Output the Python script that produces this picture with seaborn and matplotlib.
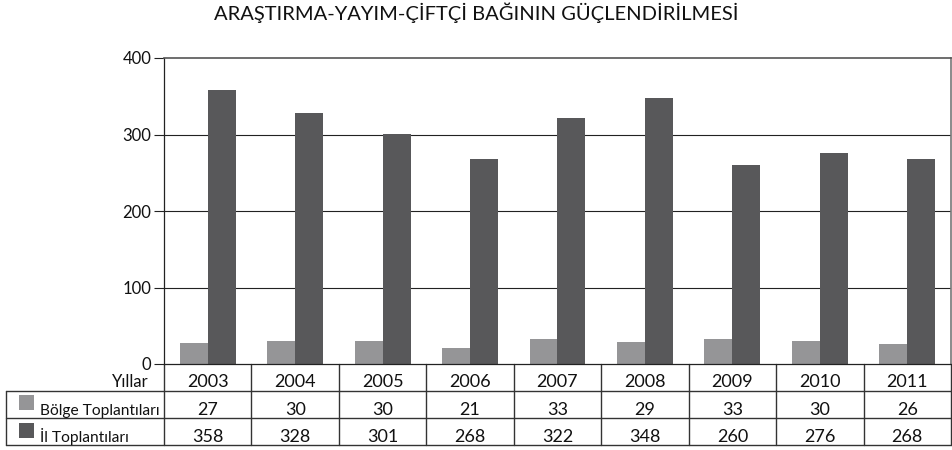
import matplotlib
matplotlib.use("Agg")
import matplotlib.pyplot as plt
import matplotlib.transforms as mtransforms
from matplotlib.patches import Rectangle
import seaborn as sns
import pandas as pd

years = ["2003", "2004", "2005", "2006", "2007", "2008", "2009", "2010", "2011"]
bolge = [27, 30, 30, 21, 33, 29, 33, 30, 26]
il = [358, 328, 301, 268, 322, 348, 260, 276, 268]
series_names = ["Bölge Toplantıları", "İl Toplantıları"]
row_header = "Yıllar"
title = "ARAŞTIRMA-YAYIM-ÇİFTÇİ BAĞININ GÜÇLENDİRİLMESİ"
yticks = [0, 100, 200, 300, 400]

colors = ["#959597", "#58585a"]

sns.set_theme(style="white")
plt.rcParams["font.family"] = ["Lato", "DejaVu Sans"]

df = pd.DataFrame({
    "Yıl": years * 2,
    "Seri": [series_names[0]] * len(years) + [series_names[1]] * len(years),
    "Değer": bolge + il,
})

W, H = 953, 450
fig = plt.figure(figsize=(W / 100, H / 100), dpi=100)
left, right, top, bottom = 164, 951, 58, 364
ax = fig.add_axes([left / W, 1 - bottom / H, (right - left) / W, (bottom - top) / H])

sns.barplot(data=df, x="Yıl", y="Değer", hue="Seri", palette=colors,
            width=0.64, ax=ax, legend=False, saturation=1, edgecolor="none")

ax.set_ylim(0, 400)
ax.set_xlim(-0.5, len(years) - 0.5)
ax.set_yticks(yticks)
ax.set_yticklabels([str(v) for v in yticks], fontsize=12, color="#111111")
ax.set_xticks([])
ax.set_xlabel("")
ax.set_ylabel("")
ax.tick_params(axis="y", which="both", left=True, length=7, width=0.8, color="#222222", pad=2)
for v in yticks[1:-1]:
    ax.axhline(v, color="#222222", lw=0.8, zorder=0.5)
for s in ["left", "bottom"]:
    ax.spines[s].set_color("#222222")
    ax.spines[s].set_linewidth(0.9)
ax.spines["top"].set_color("#555555")
ax.spines["top"].set_linewidth(1.2)
ax.spines["right"].set_color("#777777")
ax.spines["right"].set_linewidth(1.2)

fig.text(476 / W, 1 - 20 / H, title, ha="center", va="baseline", fontsize=14.5, color="#111111")

trans = mtransforms.blended_transform_factory(ax.transData, ax.transAxes)
ph = bottom - top
def yf(py):
    return (bottom - py) / ph

cat_w = (right - left) / len(years)
x_tab_left = -0.5 - (left - 6) / cat_w
n = len(years)
line_kw = dict(transform=trans, clip_on=False, color="#333333", lw=1.0)

row_lines = [391, 418, 445]
for py in row_lines:
    ax.plot([x_tab_left, n - 0.5], [yf(py), yf(py)], **line_kw)
for i in range(n + 1):
    ax.plot([i - 0.5, i - 0.5], [0, yf(445)], **line_kw)
ax.plot([x_tab_left, x_tab_left], [yf(391), yf(445)], **line_kw)

baselines = [387, 415, 442]
fs_num = 13
fs_lab = 11.2
for i, yr in enumerate(years):
    ax.text(i, yf(baselines[0]), yr, transform=trans, ha="center", va="baseline", fontsize=fs_num, color="#111111")
    ax.text(i, yf(baselines[1]), str(bolge[i]), transform=trans, ha="center", va="baseline", fontsize=fs_num, color="#111111")
    ax.text(i, yf(baselines[2]), str(il[i]), transform=trans, ha="center", va="baseline", fontsize=fs_num, color="#111111")

fig.text(149 / W, 1 - baselines[0] / H, row_header, ha="right", va="baseline", fontsize=12, color="#111111")
sq_tops = [395, 423]
for k, name in enumerate(series_names):
    fig.patches.append(Rectangle((19 / W, 1 - (sq_tops[k] + 15) / H), 15 / W, 15 / H,
                                 transform=fig.transFigure, facecolor=colors[k], edgecolor="none"))
    fig.text(40 / W, 1 - baselines[k + 1] / H, name, ha="left", va="baseline", fontsize=fs_lab,
             color="#111111")

fig.savefig("out.png", dpi=100)
